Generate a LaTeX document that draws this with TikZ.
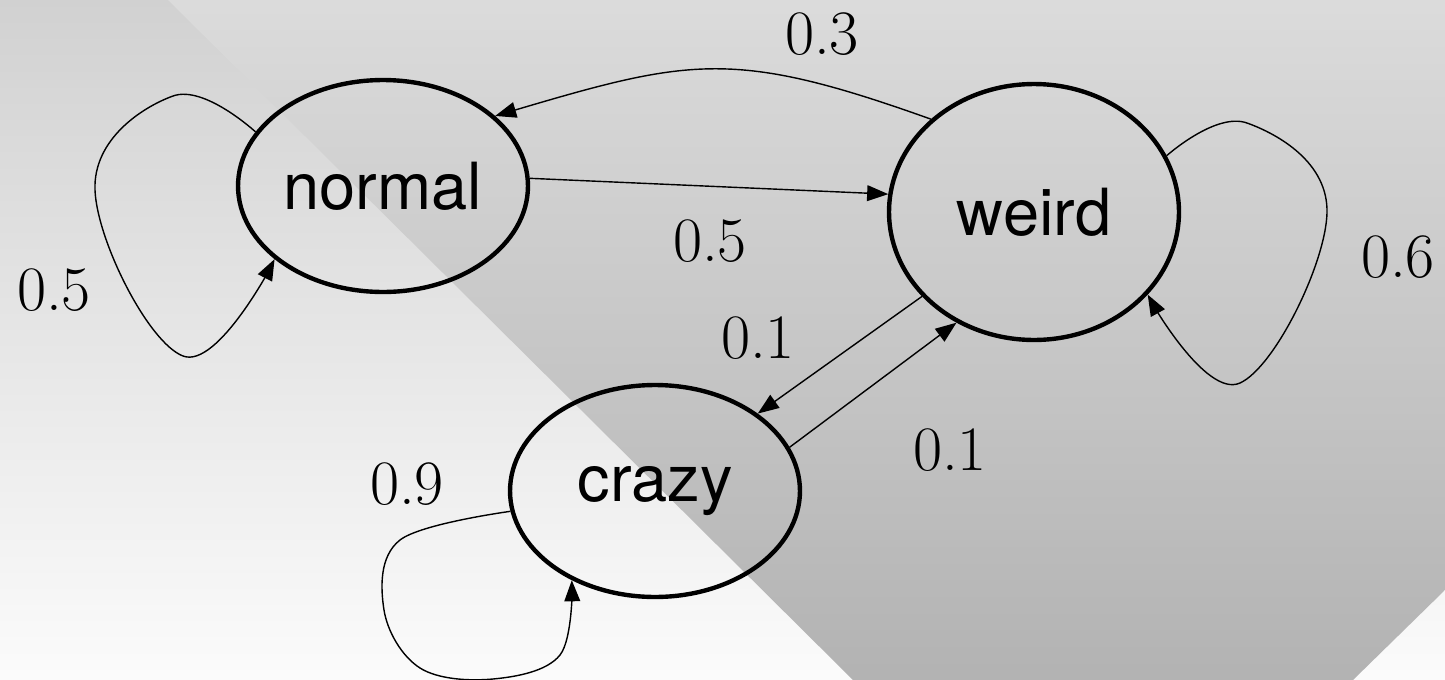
\documentclass[tikz,border=0pt]{standalone}
\usepackage{fontspec}
\setsansfont{TeX Gyre Heros}
\usetikzlibrary{arrows.meta,shapes.geometric}

\definecolor{bgtop}{gray}{0.82}
\definecolor{bgbottom}{gray}{0.985}
\definecolor{bandtop}{gray}{0.86}
\definecolor{bandbottom}{gray}{0.70}

\tikzset{
    state/.style={ellipse, draw, line width=2.5pt, inner sep=0pt,
        minimum width=5.8cm, minimum height=4.24cm,
        font=\fontsize{37}{40}\selectfont\sffamily},
    edge/.style={line width=0.8pt, -{Triangle[length=12pt,width=9pt]}},
    prob/.style={font=\fontsize{36}{40}\selectfont\rmfamily}
}

\begin{document}
\begin{tikzpicture}[x=0.02cm, y=-0.02cm]

\useasboundingbox (0,0) rectangle (1445,680);

% Background
\shade[top color=bgtop, bottom color=bgbottom] (0,0) rectangle (1445,680);
\shade[top color=bandtop, bottom color=bandbottom]
    (168,0) -- (1445,0) -- (1445,590) -- (1353,680) -- (853,680) -- cycle;

% States
\node[state] (normal) at (383,186) {normal};
\node[state, minimum height=5.12cm] (weird) at (1034,212) {weird};
\node[state] (crazy) at (655,491) {crazy};

% Transitions
\draw[edge] (normal.3) -- (weird.173);
\draw[edge] (weird.138) .. controls (735,49) and (691,58) .. (normal.32);
\draw[edge] (weird.217) -- (crazy.37);
\draw[edge] (crazy.18) -- (weird.235);

% Self loops
\draw[edge] plot[smooth, tension=0.7] coordinates
    {(normal.157) (173,96) (95,190) (183,356) (normal.214)};
\draw[edge] plot[smooth, tension=0.7] coordinates
    {(weird.23) (1247,123) (1327,213) (1240,383) (weird.324)};
\draw[edge] plot[smooth, tension=0.6] coordinates
    {(crazy.188) (400,540) (384,610) (420,668) (493,679) (560,655) (crazy.227)};

% Probabilities
\node[prob] (pnn) at (54,290) {0.5};
\node[prob] (pnw) at (710,241) {0.5};
\node[prob] (pwn) at (822,34) {0.3};
\node[prob] (pww) at (1398,257) {0.6};
\node[prob] (pwc) at (758,338) {0.1};
\node[prob] (pcw) at (950,450) {0.1};
\node[prob] (pcc) at (407,484) {0.9};

\end{tikzpicture}
\end{document}
